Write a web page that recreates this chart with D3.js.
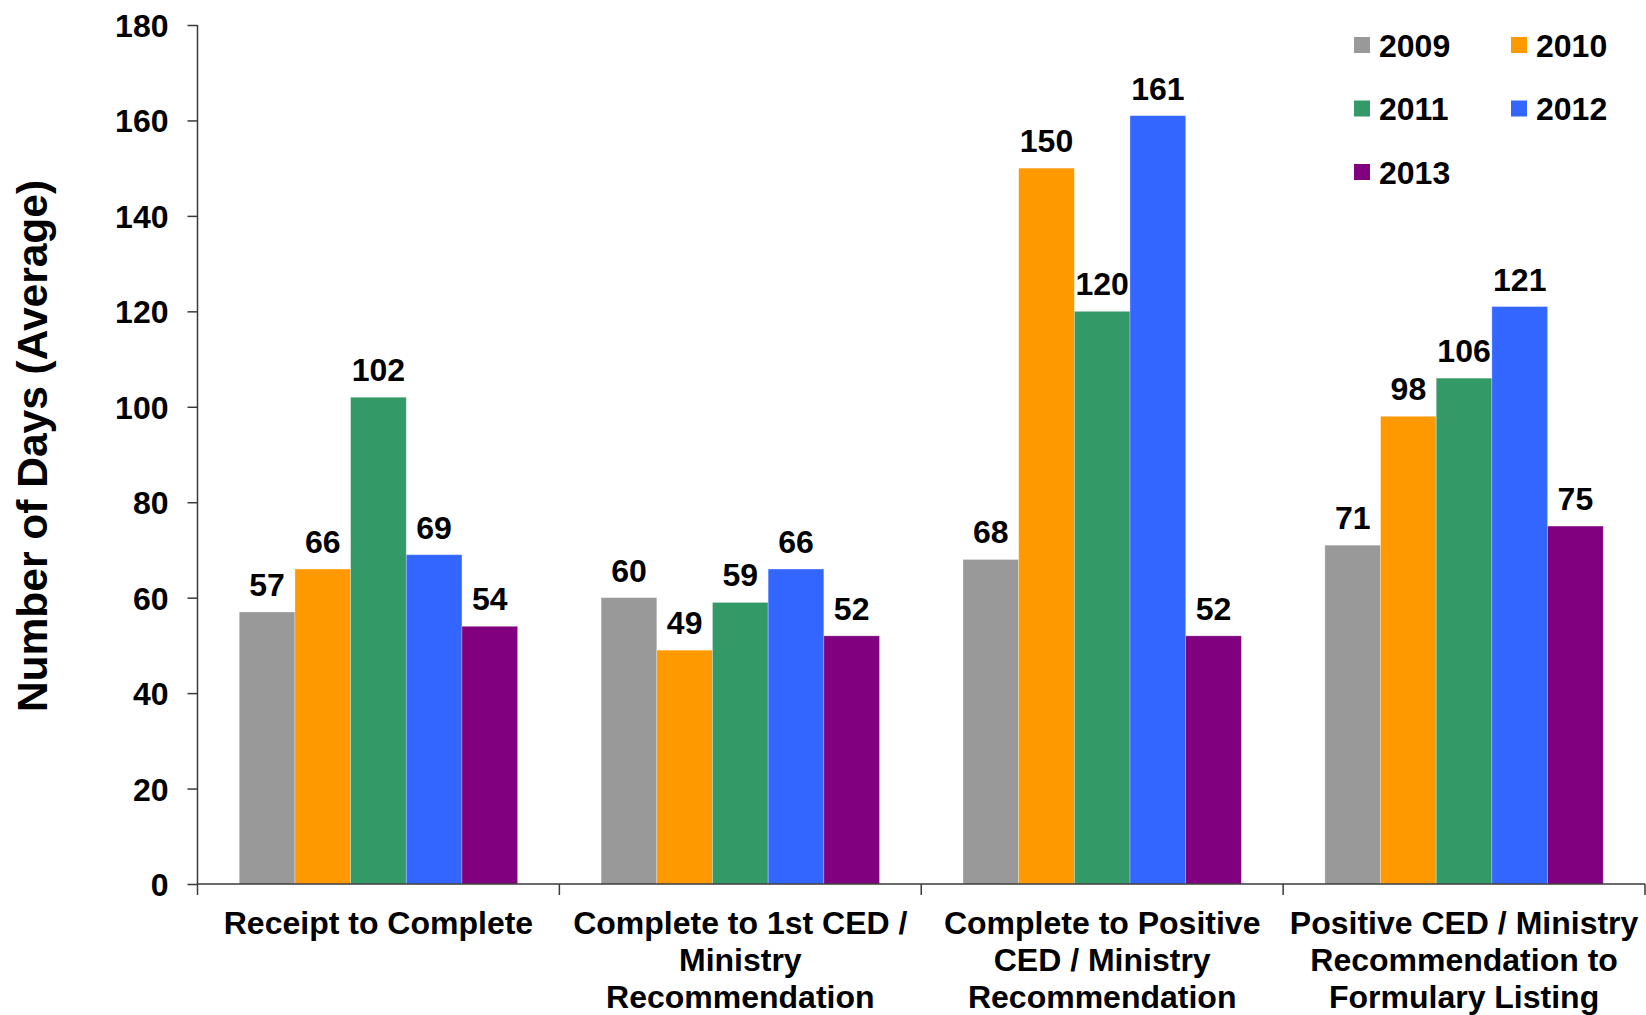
<!DOCTYPE html>
<html>
<head>
<meta charset="utf-8">
<script src="https://cdn.jsdelivr.net/npm/d3@7"></script>
<style>
  html, body { margin: 0; padding: 0; background: #ffffff; }
  svg { display: block; font-family: "Liberation Sans", Arial, sans-serif; font-weight: bold; }
</style>
</head>
<body>
<svg id="chart" width="1646" height="1015"></svg>
<script>
// Average number of days per review stage, by year
const categories = [
  "Receipt to Complete",
  "Complete to 1st CED / Ministry Recommendation",
  "Complete to Positive CED / Ministry Recommendation",
  "Positive CED / Ministry Recommendation to Formulary Listing"
];
const categoryLines = [
  ["Receipt to Complete"],
  ["Complete to 1st CED /", "Ministry", "Recommendation"],
  ["Complete to Positive", "CED / Ministry", "Recommendation"],
  ["Positive CED / Ministry", "Recommendation to", "Formulary Listing"]
];
const years = ["2009", "2010", "2011", "2012", "2013"];
const values2009 = [57, 60, 68, 71];
const values2010 = [66, 49, 150, 98];
const values2011 = [102, 59, 120, 106];
const values2012 = [69, 66, 161, 121];
const values2013 = [54, 52, 52, 75];
const yTicks = [0, 20, 40, 60, 80, 100, 120, 140, 160, 180];
const colors = ["#999999", "#FF9900", "#339966", "#3366FF", "#800080"];
const yTitle = "Number of Days (Average)";

const seriesValues = [values2009, values2010, values2011, values2012, values2013];

const svg = d3.select("#chart");

const plot = { left: 197.5, right: 1645, top: 25, bottom: 884 };

const y = d3.scaleLinear().domain([0, 180]).range([plot.bottom, plot.top]);
const x0 = d3.scaleBand().domain(categories).range([plot.left, plot.right])
  .paddingInner(0).paddingOuter(0);
const x1 = d3.scaleBand().domain(years).range([0, x0.bandwidth()])
  .paddingInner(0).paddingOuter(0.75);
const color = d3.scaleOrdinal().domain(years).range(colors);

const axisColor = "#3a3a3a";

// Bars
const groups = svg.append("g").selectAll("g")
  .data(categories)
  .join("g")
  .attr("transform", d => `translate(${x0(d)},0)`);

groups.selectAll("rect")
  .data((c, ci) => years.map((yr, si) => ({ yr, v: seriesValues[si][ci] })))
  .join("rect")
  .attr("x", d => x1(d.yr))
  .attr("y", d => y(d.v))
  .attr("width", x1.bandwidth())
  .attr("height", d => y(0) - y(d.v))
  .attr("fill", d => color(d.yr))
  .attr("stroke", "#ffffff")
  .attr("stroke-opacity", 0.35)
  .attr("stroke-width", 0.8);

// Value labels
groups.selectAll("text.val")
  .data((c, ci) => years.map((yr, si) => ({ yr, v: seriesValues[si][ci] })))
  .join("text")
  .attr("class", "val")
  .attr("x", d => x1(d.yr) + x1.bandwidth() / 2)
  .attr("y", d => y(d.v) - 16)
  .attr("text-anchor", "middle")
  .attr("font-size", 32)
  .attr("fill", "#000")
  .text(d => d.v);

// Y axis
const yAxis = d3.axisLeft(y).tickValues(yTicks).tickSize(10).tickPadding(19).tickSizeOuter(0);
const gy = svg.append("g").attr("transform", `translate(${plot.left},0)`).call(yAxis);
gy.select(".domain").remove();
gy.selectAll(".tick line").attr("stroke", axisColor).attr("stroke-width", 1.5);
gy.selectAll(".tick text")
  .attr("font-size", 32)
  .attr("font-family", "Liberation Sans, Arial, sans-serif")
  .attr("font-weight", "bold")
  .attr("fill", "#000")
  .attr("dy", "0.36em");
svg.append("line")
  .attr("x1", plot.left).attr("x2", plot.left)
  .attr("y1", y(180)).attr("y2", y(0) + 11)
  .attr("stroke", axisColor).attr("stroke-width", 1.5);

// X axis baseline and category boundary ticks
svg.append("line")
  .attr("x1", plot.left).attr("x2", plot.right)
  .attr("y1", y(0)).attr("y2", y(0))
  .attr("stroke", axisColor).attr("stroke-width", 1.5);
const boundaries = categories.map(c => x0(c)).concat([x0.range()[1]]).slice(1);
svg.append("g").selectAll("line")
  .data(boundaries)
  .join("line")
  .attr("x1", d => d).attr("x2", d => d)
  .attr("y1", y(0)).attr("y2", y(0) + 11)
  .attr("stroke", axisColor).attr("stroke-width", 1.5);

// Category labels
const catLabels = svg.append("g").selectAll("text")
  .data(categories)
  .join("text")
  .attr("x", d => x0(d) + x0.bandwidth() / 2)
  .attr("y", 934)
  .attr("text-anchor", "middle")
  .attr("font-size", 32)
  .attr("fill", "#000");
catLabels.each(function(d, i) {
  d3.select(this).selectAll("tspan")
    .data(categoryLines[i])
    .join("tspan")
    .attr("x", x0(d) + x0.bandwidth() / 2)
    .attr("dy", (t, j) => j === 0 ? 0 : 37)
    .text(t => t);
});

// Y axis title
svg.append("text")
  .attr("transform", `translate(46.5,446) rotate(-90)`)
  .attr("text-anchor", "middle")
  .attr("font-size", 42.5)
  .attr("fill", "#000")
  .text(yTitle);

// Legend: two columns, filled row by row
const legend = svg.append("g").selectAll("g")
  .data(years)
  .join("g")
  .attr("transform", (d, i) => `translate(${1354 + (i % 2) * 157},${37 + Math.floor(i / 2) * 63.5})`);
legend.append("rect")
  .attr("width", 16).attr("height", 16)
  .attr("fill", d => color(d));
legend.append("text")
  .attr("x", 25).attr("y", 19.5)
  .attr("font-size", 32)
  .attr("fill", "#000")
  .text(d => d);
</script>
</body>
</html>
